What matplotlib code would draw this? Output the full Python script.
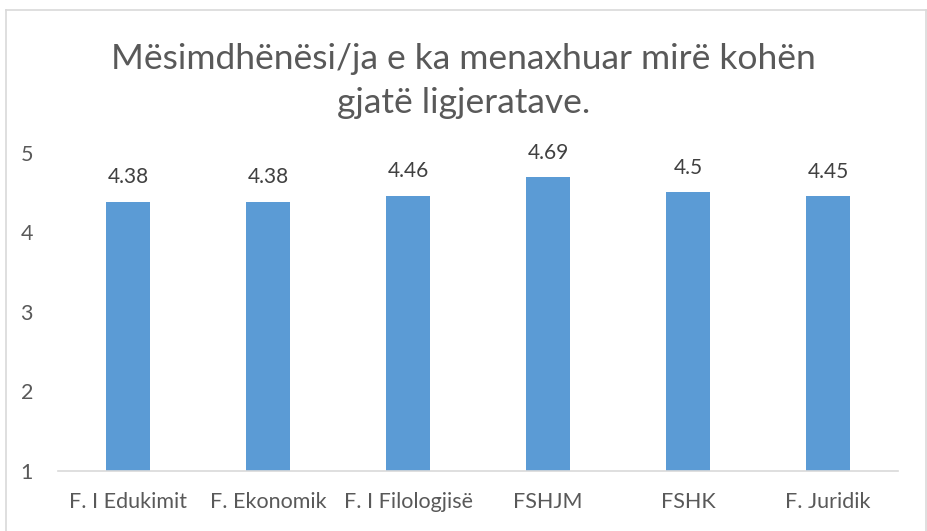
import matplotlib
matplotlib.use("Agg")
import matplotlib.pyplot as plt
from matplotlib.lines import Line2D

categories = ["F. I Edukimit", "F. Ekonomik", "F. I Filologjisë", "FSHJM", "FSHK", "F. Juridik"]
values = [4.38, 4.38, 4.46, 4.69, 4.5, 4.45]
labels = ["4.38", "4.38", "4.46", "4.69", "4.5", "4.45"]
yticks = [1, 2, 3, 4, 5]
title = "Mësimdhënësi/ja e ka menaxhuar mirë kohën\ngjatë ligjeratave."

plt.rcParams["font.family"] = ["Lato", "DejaVu Sans"]

W, H = 927, 531
fig = plt.figure(figsize=(W / 100, H / 100), dpi=100)
ax = fig.add_axes([58 / W, 1 - 471 / H, (898 - 58) / W, (471 - 152.6) / H])

x = list(range(len(categories)))
ax.bar(x, values, width=0.314, color="#5B9BD5", zorder=2)
for xi, v, lab in zip(x, values, labels):
    ax.annotate(lab, (xi, v), xytext=(0, 13.5), textcoords="offset points",
                ha="center", va="baseline", fontsize=15, color="#404040")

ax.set_xlim(-0.5, len(categories) - 0.5)
ax.set_ylim(1, 5)
ax.set_yticks(yticks)
ax.set_xticks(x)
ax.set_xticklabels(categories)
ax.tick_params(axis="both", length=0, labelsize=15.5, colors="#595959")
ax.tick_params(axis="x", pad=15)
ax.tick_params(axis="y", pad=18)
for s in ["top", "right", "left"]:
    ax.spines[s].set_visible(False)
ax.spines["bottom"].set_color("#D9D9D9")
ax.spines["bottom"].set_linewidth(1.2)

fig.text(0.5, 1 - 113 / H, title, ha="center", va="baseline", fontsize=25.5,
         color="#595959", linespacing=1.45)

# chart border
bc = "#D9D9D9"
fig.add_artist(Line2D([6 / W, 6 / W], [0, 1 - 10 / H], color=bc, lw=1.2))
fig.add_artist(Line2D([6 / W, 926 / W], [1 - 10 / H, 1 - 10 / H], color=bc, lw=1.2))
fig.add_artist(Line2D([926 / W, 926 / W], [0, 1 - 10 / H], color=bc, lw=1.2))

fig.savefig("out.png", dpi=100)
